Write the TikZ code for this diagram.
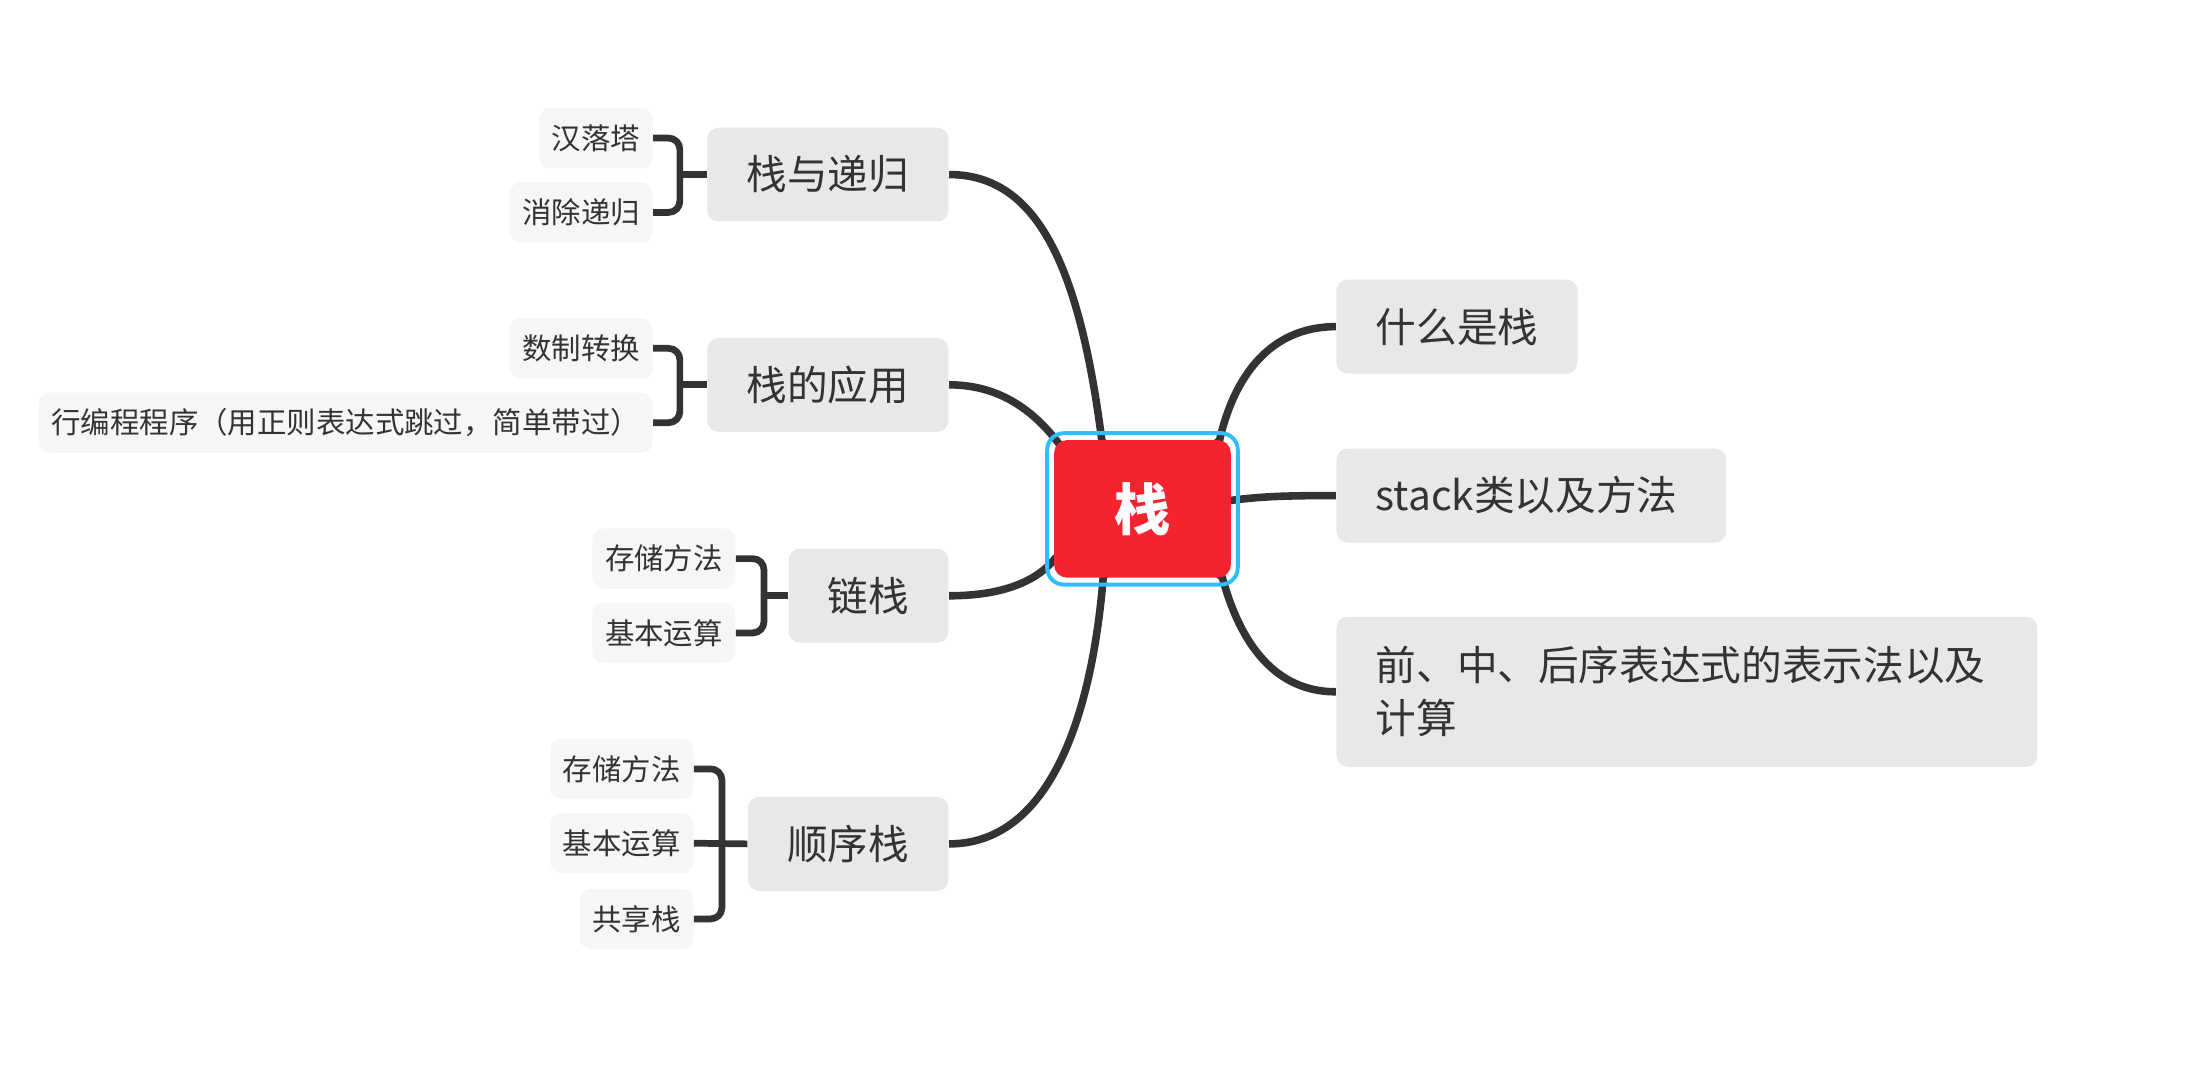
\documentclass[tikz,border=0pt]{standalone}
\usepackage{fontspec}
\setmainfont{Noto Sans CJK SC}
\usetikzlibrary{backgrounds}
\definecolor{txt}{HTML}{333333}
\definecolor{lvl}{HTML}{E8E8E8}
\definecolor{leafc}{HTML}{F6F6F6}
\definecolor{rootred}{HTML}{F5222F}
\definecolor{ringblue}{HTML}{2EBEFF}
\begin{document}
\begin{tikzpicture}[x=0.5pt,y=-0.5pt,
  topic/.style={fill=lvl, rounded corners=4pt, text=txt, inner xsep=14pt, inner ysep=0pt, minimum height=33.5pt, font=\fontsize{14.5pt}{19pt}\selectfont},
  leaf/.style={fill=leafc, rounded corners=4pt, text=txt, inner xsep=4.5pt, inner ysep=0pt, minimum height=21.5pt, font=\fontsize{10.5pt}{13pt}\selectfont},
  conn/.style={draw=txt, line width=2.7pt, line join=round},
  brk/.style={draw=txt, line width=2.4pt, rounded corners=4pt},
]
\useasboundingbox (0,0) rectangle (1568,768);

% root
\node[fill=rootred, rounded corners=4.5pt, minimum width=63pt, minimum height=49pt, inner sep=0pt, text=white, font=\fontsize{20pt}{24pt}\selectfont\bfseries] (root) at (815,363) {栈};
\node[draw=ringblue, line width=1.4pt, rounded corners=6pt, minimum width=68pt, minimum height=54pt, inner sep=0pt] (ring) at (815,363) {};

% left topics
\node[topic, anchor=east] (zydg) at (677,124.5) {栈与递归};
\node[topic, anchor=east] (zdyy) at (677,274.5) {栈的应用};
\node[topic, anchor=east] (lz) at (677,425) {链栈};
\node[topic, anchor=east] (sxz) at (677,602) {顺序栈};

% right topics
\node[topic, anchor=west] (smsz) at (953,233) {什么是栈};
\node[topic, anchor=west, align=left, text width=111pt] (stk) at (953,353.5) {stack类以及方法};
\node[topic, anchor=west, align=left, text width=222pt, minimum height=53.5pt] (qzh) at (953,493.5) {前、中、后序表达式的表示法以及\\计算};

% leaves
\node[leaf, anchor=east] (hlt) at (466,98.5) {汉落塔};
\node[leaf, anchor=east] (xcdg) at (466,151.5) {消除递归};
\node[leaf, anchor=east] (szzh) at (466,248.5) {数制转换};
\node[leaf, anchor=east, minimum width=217pt] (hbc) at (466,301.5) {行编程程序（用正则表达式跳过，简单带过）};
\node[leaf, anchor=east] (lccf) at (525,398.5) {存储方法};
\node[leaf, anchor=east] (lysf) at (525,451.5) {基本运算};
\node[leaf, anchor=east] (sccf) at (495,548.5) {存储方法};
\node[leaf, anchor=east] (sysf) at (495,601.5) {基本运算};
\node[leaf, anchor=east] (gxz) at (495,655.5) {共享栈};

% brackets
\coordinate (b1) at (485,124.5);
\coordinate (b2) at (485,274.5);
\coordinate (b3) at (545,425);
\coordinate (b4) at (515,602);
\draw[brk] (hlt.east) -| (b1) |- (xcdg.east);
\draw[brk] (b1) -- (zydg.west);
\draw[brk] (szzh.east) -| (b2) |- (hbc.east);
\draw[brk] (b2) -- (zdyy.west);
\draw[brk] (lccf.east) -| (b3) |- (lysf.east);
\draw[brk] (b3) -- (lz.west);
\draw[brk] (sccf.east) -| (b4) |- (gxz.east);
\draw[brk] (sysf.east) -- (sxz.west);

% curves
\begin{scope}[on background layer]
\fill[white] (0,0) rectangle (1568,768);
\draw[conn] (zydg.east) .. controls (740,124.5) and (770,190) .. (786,314) -- (root.center);
\draw[conn] (zdyy.east) .. controls (715,274.5) and (740,295) .. (758,320) -- (root.center);
\draw[conn] (lz.east) .. controls (720,425) and (742,412) .. (753,398) -- (root.center);
\draw[conn] (sxz.east) .. controls (745,602) and (778,520) .. (787,412) -- (root.center);
\draw[conn] (smsz.west) .. controls (905,233) and (880,270) .. (870,314) -- (root.center);
\draw[conn] (stk.west) .. controls (920,353.5) and (900,354) .. (878,357) -- (root.center);
\draw[conn] (qzh.west) .. controls (910,493.5) and (885,460) .. (872,412) -- (root.center);
\end{scope}
\end{tikzpicture}
\end{document}
